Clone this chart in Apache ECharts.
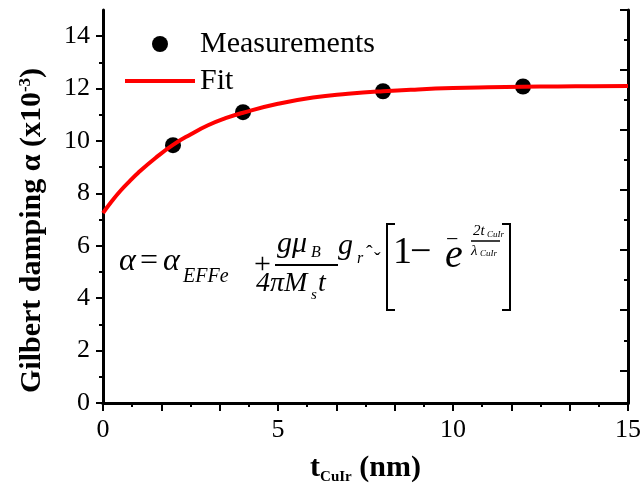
<!DOCTYPE html>
<html>
<head>
<meta charset="utf-8">
<script src="https://cdn.jsdelivr.net/npm/echarts@6/dist/echarts.min.js"></script>
<style>
html, body { margin: 0; padding: 0; background: #fff; }
#main { width: 644px; height: 490px; }
</style>
</head>
<body>
<div id="main"></div>
<script>
// measured damping (x10^-3) vs CuIr thickness (nm)
var measX = [2, 4, 8, 12];
var measY = [9.84, 11.1, 11.9, 12.08];

// fit curve
var fitX = [0, 0.25, 0.5, 0.75, 1, 1.5, 2, 2.5, 3, 3.5, 4, 5, 6, 7, 8, 9, 10, 11, 12, 13, 14, 15];
var fitY = [7.25, 7.7, 8.1, 8.45, 8.78, 9.35, 9.85, 10.25, 10.6, 10.87, 11.08, 11.42, 11.66, 11.8, 11.9, 11.97, 12.02, 12.05, 12.07, 12.08, 12.09, 12.1];

// tick positions
var yMajor = [0, 2, 4, 6, 8, 10, 12, 14];
var yMinor = [1, 3, 5, 7, 9, 11, 13];
var rightMajor = [0, 1, 2, 3, 4, 5, 6];
var rightMinor = [0.5, 1.5, 2.5, 3.5, 4.5, 5.5];

var serif = "Liberation Serif";

function pairs(xs, ys) {
    var out = [];
    for (var i = 0; i < xs.length; i++) out.push([xs[i], ys[i]]);
    return out;
}

// formula pieces
function txt(s, x, y, size, italic) {
    return {
        type: 'text', x: x, y: y, z: 100,
        style: {
            text: s,
            font: (italic ? 'italic ' : '') + size + 'px "' + serif + '"',
            fill: '#000',
            verticalAlign: 'middle'
        }
    };
}
function seg(pts, w) {
    return {type: 'polyline', z: 100, shape: {points: pts}, style: {stroke: '#000', lineWidth: w, fill: null}};
}

var formula = [
    txt('α', 119, 262, 32, true),
    txt('=', 140, 262, 32, false),
    txt('α', 163, 262, 32, true),
    txt('EFFe', 183, 277, 20, true),
    txt('+', 254, 265, 30, false),
    txt('gμ', 277, 244, 30, true),
    txt('B', 311, 253, 16, true),
    seg([[275, 265], [338, 265]], 2),
    txt('4πM', 256, 284, 28, true),
    txt('s', 311, 295, 15, true),
    txt('t', 318, 284, 28, true),
    txt('g', 338, 246, 30, true),
    txt('r', 357, 259, 16, true),
    txt('ˆ', 366, 255, 20, false),
    txt('ˇ', 374, 262, 20, false),
    seg([[395, 224], [387, 224], [387, 310], [395, 310]], 2),
    txt('1', 393, 253, 38, false),
    txt('−', 410, 253, 38, false),
    txt('e', 445, 256, 40, true),
    txt('−', 446, 240, 22, false),
    txt('2t', 473, 231, 15, true),
    txt('CuIr', 487, 235, 9, true),
    seg([[471, 241], [500, 241]], 1.5),
    txt('λ', 471, 251, 15, true),
    txt('CuIr', 480, 254, 9, true),
    seg([[502, 224], [510, 224], [510, 310], [502, 310]], 2)
];

var chart = echarts.init(document.getElementById('main'));

var axisLine = {show: true, lineStyle: {color: '#000', width: 3}};

option = {
    animation: false,
    backgroundColor: '#fff',
    textStyle: {fontFamily: serif},
    grid: {left: 103, right: 11, top: 10, bottom: 87},
    legend: {
        orient: 'vertical',
        left: 120,
        top: 24,
        itemWidth: 70,
        itemHeight: 16,
        itemGap: 7,
        textStyle: {fontFamily: serif, fontSize: 30, color: '#000', lineHeight: 30},
        data: [
            {name: 'Measurements', icon: 'circle'},
            {name: 'Fit', icon: 'path://M0 0H70V4H0Z'}
        ]
    },
    xAxis: [
        {
            type: 'value', position: 'bottom', min: 0, max: 15, interval: 5,
            axisLine: axisLine,
            axisTick: {show: true, inside: false, length: 6, lineStyle: {color: '#000', width: 2}},
            minorTick: {show: true, splitNumber: 2, length: 4, lineStyle: {color: '#000', width: 2}},
            axisLabel: {fontFamily: serif, fontSize: 26, color: '#000', margin: 14},
            splitLine: {show: false},
            name: 't{sub|CuIr} (nm)',
            nameLocation: 'middle',
            nameGap: 48,
            nameTextStyle: {
                fontFamily: serif, fontSize: 30, fontWeight: 'bold', color: '#000', lineHeight: 34,
                rich: {sub: {fontFamily: serif, fontSize: 15, fontWeight: 'bold', color: '#000', verticalAlign: 'bottom', lineHeight: 2}}
            }
        },
        {
            type: 'value', position: 'top', min: 0, max: 9, interval: 1,
            axisLine: axisLine,
            axisTick: {show: true, inside: true, length: 8, lineStyle: {color: '#000', width: 2}},
            minorTick: {show: true, splitNumber: 2, length: 4, lineStyle: {color: '#000', width: 2}},
            axisLabel: {show: false},
            splitLine: {show: false}
        }
    ],
    yAxis: [
        {
            type: 'value', position: 'left', min: 0, max: 15, interval: 1,
            axisLine: axisLine,
            axisTick: {show: true, inside: false, length: 7, customValues: yMajor, lineStyle: {color: '#000', width: 2}},
            axisLabel: {fontFamily: serif, fontSize: 26, color: '#000', margin: 13, customValues: yMajor},
            splitLine: {show: false},
            name: 'Gilbert damping α (x10{sup|-3})',
            nameLocation: 'middle',
            nameRotate: 90,
            nameGap: 56,
            nameTextStyle: {
                fontFamily: serif, fontSize: 30, fontWeight: 'bold', color: '#000',
                padding: [0, 48, 0, 0],
                rich: {sup: {fontFamily: serif, fontSize: 17, fontWeight: 'bold', color: '#000', verticalAlign: 'top'}}
            }
        },
        {
            type: 'value', position: 'left', min: 0, max: 15, interval: 1,
            axisLine: {show: false},
            axisTick: {show: true, inside: false, length: 4, customValues: yMinor, lineStyle: {color: '#000', width: 2}},
            axisLabel: {show: false},
            splitLine: {show: false}
        },
        {
            type: 'value', position: 'right', inverse: true, min: 0, max: 6.545, interval: 1,
            axisLine: axisLine,
            axisTick: {show: true, inside: true, length: 8, customValues: rightMajor, lineStyle: {color: '#000', width: 2}},
            axisLabel: {show: false},
            splitLine: {show: false}
        },
        {
            type: 'value', position: 'right', inverse: true, min: 0, max: 6.545, interval: 1,
            axisLine: {show: false},
            axisTick: {show: true, inside: true, length: 4, customValues: rightMinor, lineStyle: {color: '#000', width: 2}},
            axisLabel: {show: false},
            splitLine: {show: false}
        }
    ],
    graphic: formula,
    series: [
        {
            name: 'Measurements',
            type: 'scatter',
            xAxisIndex: 0,
            yAxisIndex: 0,
            symbol: 'circle',
            symbolSize: 16,
            itemStyle: {color: '#000', opacity: 1},
            z: 2,
            data: pairs(measX, measY)
        },
        {
            name: 'Fit',
            type: 'line',
            xAxisIndex: 0,
            yAxisIndex: 0,
            smooth: true,
            symbol: 'none',
            lineStyle: {color: '#ff0000', width: 4},
            itemStyle: {color: '#ff0000'},
            z: 3,
            data: pairs(fitX, fitY)
        }
    ]
};

chart.setOption(option);
</script>
</body>
</html>
